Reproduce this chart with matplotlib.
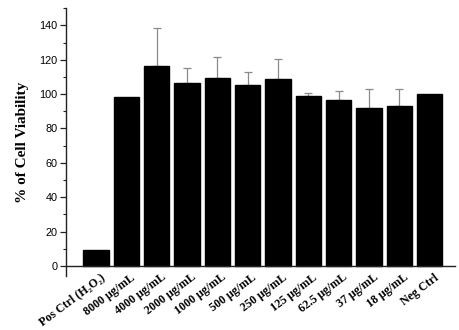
import matplotlib
matplotlib.use("Agg")
import matplotlib.pyplot as plt
from matplotlib.ticker import MultipleLocator
from matplotlib.transforms import ScaledTranslation

categories = ["Pos Ctrl (H\u2082O\u2082)", "8000 \u03bcg/mL", "4000 \u03bcg/mL", "2000 \u03bcg/mL",
              "1000 \u03bcg/mL", "500 \u03bcg/mL", "250 \u03bcg/mL", "125 \u03bcg/mL",
              "62.5 \u03bcg/mL", "37 \u03bcg/mL", "18 \u03bcg/mL", "Neg Ctrl"]
viability = [9.0, 98.2, 116.1, 106.6, 109.5, 105.4, 108.9, 98.8, 96.7, 92.2, 93.3, 100.0]
error_up = [0.0, 0.0, 22.4, 8.5, 12.4, 7.6, 11.7, 1.7, 5.2, 10.9, 9.6, 0.0]

fig = plt.figure(figsize=(4.59, 3.30), dpi=100)
ax = fig.add_axes([0.143, 0.163, 0.848, 0.812])

x = list(range(len(categories)))
ax.bar(x, viability, width=0.83, color="black", edgecolor="black", zorder=2)
err_x = [xi for xi, e in zip(x, error_up) if e > 0]
err_y = [v for v, e in zip(viability, error_up) if e > 0]
err_e = [e for e in error_up if e > 0]
ax.errorbar(err_x, err_y, yerr=[[0] * len(err_e), err_e], fmt="none",
            ecolor="#8a8a8a", elinewidth=0.9, capsize=3, capthick=0.9, zorder=1)

ax.set_xlim(-1.0, 11.83)
ax.set_ylim(-6, 150)
ax.spines["top"].set_visible(False)
ax.spines["right"].set_visible(False)
ax.spines["bottom"].set_position(("data", 0))
for s in ("left", "bottom"):
    ax.spines[s].set_linewidth(1.0)
    ax.spines[s].set_color("#222222")

ax.yaxis.set_major_locator(MultipleLocator(20))
ax.yaxis.set_minor_locator(MultipleLocator(10))
ax.set_yticks([0, 20, 40, 60, 80, 100, 120, 140])
ax.tick_params(axis="y", which="major", length=4, width=0.9, labelsize=7.8, pad=2, color="#222222")
ax.tick_params(axis="y", which="minor", length=2.2, width=0.8, color="#222222")
ax.tick_params(axis="x", length=0, pad=4)

ax.set_xticks(x)
ax.set_xticklabels(categories, rotation=37, ha="right", rotation_mode="anchor",
                   family=["Liberation Serif", "DejaVu Serif"], fontweight="bold", fontsize=8.6)
offset = ScaledTranslation(4 / 100, 0, fig.dpi_scale_trans)
for lab in ax.get_xticklabels():
    lab.set_transform(lab.get_transform() + offset)
for lab in ax.get_yticklabels():
    lab.set_family(["Liberation Sans", "DejaVu Sans"])

ax.set_ylabel("% of Cell Viability", family=["Liberation Serif", "DejaVu Serif"],
              fontweight="bold", fontsize=11, labelpad=7.5)

fig.savefig("out.png", dpi=100)
